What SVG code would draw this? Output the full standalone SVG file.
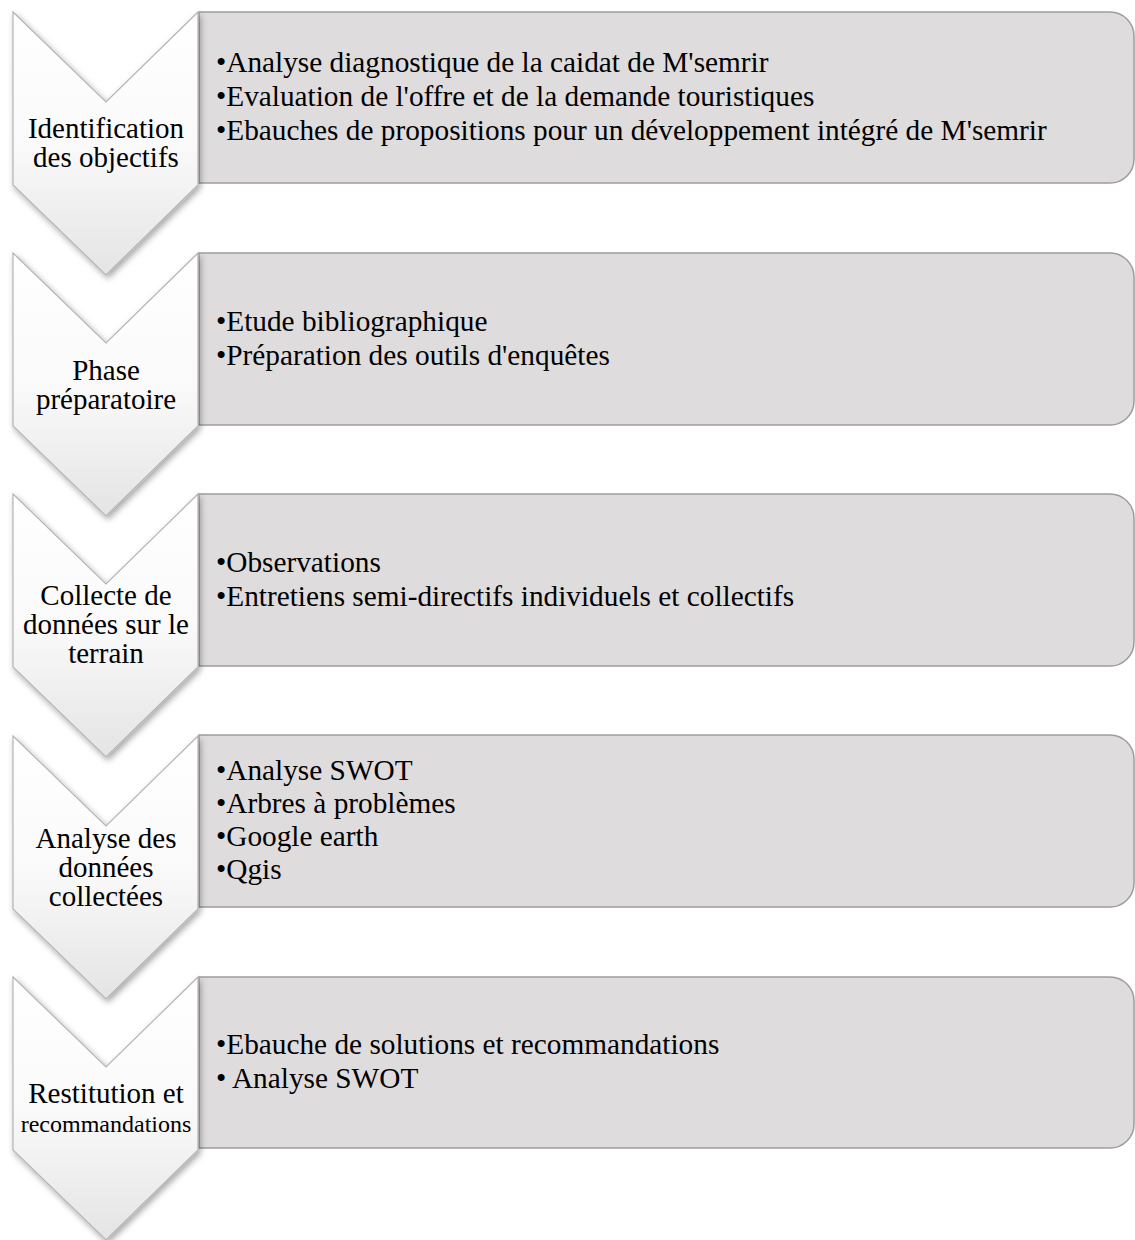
<svg xmlns="http://www.w3.org/2000/svg" width="1135" height="1240" viewBox="0 0 1135 1240">
<style>
.box{fill:#dfdcdd;stroke:#a09c9c;stroke-width:1.5}
.chev{fill:url(#cg);stroke:#b4b4b4;stroke-width:1.2;filter:url(#sh)}
.t{font-family:"Liberation Serif","Times New Roman",serif;font-size:29.3px;fill:#000}
.c{font-family:"Liberation Serif","Times New Roman",serif;font-size:29px;fill:#000;text-anchor:middle}
</style>
<defs>
<linearGradient id="cg" x1="0" y1="0" x2="0" y2="1">
<stop offset="0" stop-color="#ffffff"/>
<stop offset="0.5" stop-color="#fafafa"/>
<stop offset="1" stop-color="#e4e4e4"/>
</linearGradient>
<filter id="sh" x="-20%" y="-20%" width="150%" height="150%">
<feDropShadow dx="2" dy="3" stdDeviation="3" flood-color="#000" flood-opacity="0.35"/>
</filter>
</defs>
<g id="connectors"></g>
<g id="box1"><path class="box" d="M199,12 H1110 A24,24 0 0 1 1134,36 V159 A24,24 0 0 1 1110,183 H199 Z"/>
<text class="t" x="216" y="72">•Analyse diagnostique de la caidat de M'semrir</text>
<text class="t" x="216" y="106">•Evaluation de l'offre et de la demande touristiques</text>
<text class="t" x="216" y="140">•Ebauches de propositions pour un développement intégré de M'semrir</text></g>
<g id="box2"><path class="box" d="M199,253 H1110 A24,24 0 0 1 1134,277 V401 A24,24 0 0 1 1110,425 H199 Z"/>
<text class="t" x="216" y="331">•Etude bibliographique</text>
<text class="t" x="216" y="365">•Préparation des outils d'enquêtes</text></g>
<g id="box3"><path class="box" d="M199,494 H1110 A24,24 0 0 1 1134,518 V642 A24,24 0 0 1 1110,666 H199 Z"/>
<text class="t" x="216" y="572">•Observations</text>
<text class="t" x="216" y="606">•Entretiens semi-directifs individuels et collectifs</text></g>
<g id="box4"><path class="box" d="M199,735 H1110 A24,24 0 0 1 1134,759 V883 A24,24 0 0 1 1110,907 H199 Z"/>
<text class="t" x="216" y="780">•Analyse SWOT</text>
<text class="t" x="216" y="813">•Arbres à problèmes</text>
<text class="t" x="216" y="846">•Google earth</text>
<text class="t" x="216" y="879">•Qgis</text></g>
<g id="box5"><path class="box" d="M199,977 H1110 A24,24 0 0 1 1134,1001 V1124 A24,24 0 0 1 1110,1148 H199 Z"/>
<text class="t" x="216" y="1054">•Ebauche de solutions et recommandations</text>
<text class="t" x="216" y="1088">• Analyse SWOT</text></g>
<g id="chev1"><path class="chev" d="M13,12 L106,102 L198,12 L198,185 L106,275 L13,185 Z"/>
<text class="c" x="106" y="138">Identification</text>
<text class="c" x="106" y="167">des objectifs</text></g>
<g id="chev2"><path class="chev" d="M13,253 L106,343 L198,253 L198,426 L106,516 L13,426 Z"/>
<text class="c" x="106" y="380">Phase</text>
<text class="c" x="106" y="409">préparatoire</text></g>
<g id="chev3"><path class="chev" d="M13,494 L106,584 L198,494 L198,667 L106,757 L13,667 Z"/>
<text class="c" x="106" y="605">Collecte de</text>
<text class="c" x="106" y="634">données sur le</text>
<text class="c" x="106" y="663">terrain</text></g>
<g id="chev4"><path class="chev" d="M13,736 L106,826 L198,736 L198,909 L106,999 L13,909 Z"/>
<text class="c" x="106" y="848">Analyse des</text>
<text class="c" x="106" y="877">données</text>
<text class="c" x="106" y="906">collectées</text></g>
<g id="chev5"><path class="chev" d="M13,977 L106,1067 L198,977 L198,1150 L106,1240 L13,1150 Z"/>
<text class="c" x="106" y="1103">Restitution et</text>
<text class="c" x="106" y="1132" style="font-size:24px">recommandations</text></g>
</svg>
